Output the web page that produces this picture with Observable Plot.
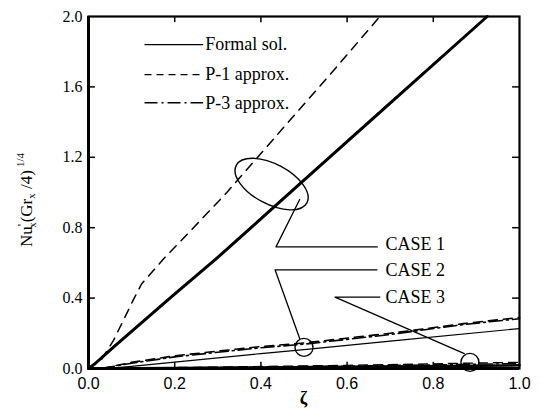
<!DOCTYPE html>
<html>
<head>
<meta charset="utf-8">
<script src="https://cdn.jsdelivr.net/npm/d3@7"></script>
<script src="https://cdn.jsdelivr.net/npm/@observablehq/plot@0.6"></script>
<style>
  html, body { margin: 0; padding: 0; background: #fff; }
  #chart svg { display: block; }
</style>
</head>
<body>
<div id="chart"></div>
<script>
// ---- data ----
const xTicks = [0, 0.2, 0.4, 0.6, 0.8, 1.0];
const yTicks = [0, 0.4, 0.8, 1.2, 1.6, 2.0];
const xTickLabels = ["0.0", "0.2", "0.4", "0.6", "0.8", "1.0"];
const yTickLabels = ["0.0", "0.4", "0.8", "1.2", "1.6", "2.0"];

// CASE 1
const case1FormalZeta = [0, 0.015, 0.058, 0.193, 0.298, 0.502, 0.676, 0.925];
const case1FormalNu   = [0, 0.027, 0.122, 0.408, 0.627, 1.074, 1.455, 2.0];
const case1P1Zeta = [0, 0.03, 0.058, 0.081, 0.104, 0.123, 0.177, 0.228, 0.321, 0.41, 0.564, 0.676];
const case1P1Nu   = [0, 0.05, 0.16, 0.274, 0.39, 0.48, 0.63, 0.76, 1.0, 1.25, 1.68, 2.0];
const case1P3Zeta = [0, 0.015, 0.058, 0.193, 0.298, 0.502, 0.676, 0.925];
const case1P3Nu   = [0, 0.03, 0.125, 0.41, 0.63, 1.078, 1.46, 2.0];

// CASE 2
const case2FormalZeta = [0.04, 0.1, 0.2, 0.4, 0.5, 0.7, 1.0];
const case2FormalNu   = [0, 0.012, 0.036, 0.085, 0.107, 0.155, 0.227];
const case2P1Zeta = [0.03, 0.1, 0.2, 0.4, 0.5, 0.7, 0.87, 1.0];
const case2P1Nu   = [0, 0.035, 0.072, 0.125, 0.145, 0.2, 0.255, 0.29];
const case2P3Zeta = [0.03, 0.1, 0.2, 0.4, 0.5, 0.7, 0.87, 1.0];
const case2P3Nu   = [0, 0.03, 0.066, 0.118, 0.138, 0.193, 0.25, 0.283];

// CASE 3
const case3FormalZeta = [0, 0.3, 0.6, 1.0];
const case3FormalNu   = [0, 0.004, 0.01, 0.018];
const case3P1Zeta = [0, 0.3, 0.6, 1.0];
const case3P1Nu   = [0, 0.008, 0.018, 0.035];
const case3P3Zeta = [0, 0.3, 0.6, 1.0];
const case3P3Nu   = [0, 0.006, 0.014, 0.028];

// legend
const legendLabels = ["Formal sol.", "P-1 approx.", "P-3 approx."];
const legendNu = [1.84, 1.67, 1.51];

// annotations (data coordinates)
const caseLabels = ["CASE 1", "CASE 2", "CASE 3"];
const caseLabelZeta = [0.68, 0.68, 0.68];
const caseLabelNu = [0.705, 0.56, 0.406];
const leader1Zeta = [0.49, 0.435, 0.67];
const leader1Nu   = [0.96, 0.691, 0.691];
const leader2Zeta = [0.49, 0.433, 0.669];
const leader2Nu   = [0.17, 0.56, 0.56];
const leader3Zeta = [0.872, 0.572, 0.676];
const leader3Nu   = [0.085, 0.406, 0.406];
const ellipse1 = {zeta: 0.426, nu: 1.045, rx: 40, ry: 20, angle: 28};
const circle2 = {zeta: 0.5, nu: 0.12};
const circle3 = {zeta: 0.885, nu: 0.035};

// ---- build tables ----
const zip = (xs, ys) => xs.map((x, i) => ({x, y: ys[i]}));
const serif = "Liberation Serif, Times New Roman, serif";
const sans = "Liberation Sans, Arial, sans-serif";

const dashDash = "7,5", dotDash = "13,4,2,4";
const legendDashes = [null, dashDash, dotDash];
const legendWidths = [1.4, 1.4, 1.4];

const legendMarks = legendLabels.map((t, i) =>
  Plot.link([{y: legendNu[i]}], {
    x1: 0.13, x2: 0.266, y1: "y", y2: "y", stroke: "#000", strokeWidth: legendWidths[i],
    strokeDasharray: legendDashes[i]
  })
);

const marks = [
  // CASE 3 (bottom)
  Plot.line(zip(case3P1Zeta, case3P1Nu), {x: "x", y: "y", stroke: "#000", strokeWidth: 1.4, strokeDasharray: "9,6"}),
  Plot.line(zip(case3P3Zeta, case3P3Nu), {x: "x", y: "y", stroke: "#000", strokeWidth: 1.4, strokeDasharray: dotDash}),
  Plot.line(zip(case3FormalZeta, case3FormalNu), {x: "x", y: "y", stroke: "#000", strokeWidth: 2.5}),
  // CASE 2
  Plot.line(zip(case2P1Zeta, case2P1Nu), {x: "x", y: "y", stroke: "#000", strokeWidth: 1.6, strokeDasharray: "9,6"}),
  Plot.line(zip(case2P3Zeta, case2P3Nu), {x: "x", y: "y", stroke: "#000", strokeWidth: 1.6, strokeDasharray: dotDash}),
  Plot.line(zip(case2FormalZeta, case2FormalNu), {x: "x", y: "y", stroke: "#000", strokeWidth: 1.2}),
  // CASE 1
  Plot.line(zip(case1P1Zeta, case1P1Nu), {x: "x", y: "y", stroke: "#000", strokeWidth: 1.5, strokeDasharray: "9,7"}),
  Plot.line(zip(case1P3Zeta, case1P3Nu), {x: "x", y: "y", stroke: "#000", strokeWidth: 1.5, strokeDasharray: dotDash}),
  Plot.line(zip(case1FormalZeta, case1FormalNu), {x: "x", y: "y", stroke: "#000", strokeWidth: 3}),

  // leader lines
  Plot.line(zip(leader1Zeta, leader1Nu), {x: "x", y: "y", stroke: "#000", strokeWidth: 1.3}),
  Plot.line(zip(leader2Zeta, leader2Nu), {x: "x", y: "y", stroke: "#000", strokeWidth: 1.3}),
  Plot.line(zip(leader3Zeta, leader3Nu), {x: "x", y: "y", stroke: "#000", strokeWidth: 1.3}),
  Plot.dot([circle2], {x: "zeta", y: "nu", r: 9, stroke: "#000", strokeWidth: 1.4, fill: "none"}),
  Plot.dot([circle3], {x: "zeta", y: "nu", r: 9, stroke: "#000", strokeWidth: 1.4, fill: "none"}),
  Plot.text(caseLabels.map((t, i) => ({t, x: caseLabelZeta[i], y: caseLabelNu[i]})), {
    x: "x", y: "y", text: "t", textAnchor: "start", dx: 4, fontSize: 18, fontFamily: serif, fill: "#000",
    letterSpacing: 1.2
  }),

  // legend
  ...legendMarks,
  Plot.text(legendLabels.map((t, i) => ({t, y: legendNu[i]})), {
    x: 0.266, y: "y", text: "t", textAnchor: "start", dx: 2, fontSize: 18, fontFamily: serif, fill: "#000",
    letterSpacing: 0.4
  }),

  // inward ticks
  Plot.ruleX(xTicks.slice(1, -1), {x: d => d, y1: 0, y2: 0.035, stroke: "#000", strokeWidth: 1.5}),
  Plot.ruleX(xTicks.slice(1, -1), {x: d => d, y1: 2, y2: 1.965, stroke: "#000", strokeWidth: 1.5}),
  Plot.ruleY(yTicks.slice(1, -1), {y: d => d, x1: 0, x2: 0.016, stroke: "#000", strokeWidth: 1.5}),
  Plot.ruleY(yTicks.slice(1, -1), {y: d => d, x1: 1, x2: 0.984, stroke: "#000", strokeWidth: 1.5}),

  // frame
  Plot.frame({stroke: "#000", strokeWidth: 2.2}),
  Plot.ruleX([0], {stroke: "#000", strokeWidth: 3}),
  Plot.ruleY([0], {stroke: "#000", strokeWidth: 3.2}),

  // axes (labels only)
  Plot.axisX(xTicks, {anchor: "bottom", tickSize: 0, tickPadding: 9, tickFormat: (d, i) => xTickLabels[i],
    fontSize: 16, fontFamily: sans, label: null}),
  Plot.axisY(yTicks, {anchor: "left", tickSize: 0, tickPadding: 6, tickFormat: (d, i) => yTickLabels[i],
    fontSize: 16, fontFamily: serif, label: null})
];

const chart = Plot.plot({
  width: 541,
  height: 412,
  marginLeft: 88,
  marginRight: 22,
  marginTop: 16,
  marginBottom: 44,
  x: {domain: [0, 1]},
  y: {domain: [0, 2]},
  style: {background: "#fff", color: "#000", overflow: "visible"},
  marks
});

// tilted ellipse for CASE 1 (positioned via Plot scales)
const sx = chart.scale("x"), sy = chart.scale("y");
const svg = d3.select(chart);
const ex = sx.apply(ellipse1.zeta), ey = sy.apply(ellipse1.nu);
svg.append("ellipse")
  .attr("cx", ex).attr("cy", ey).attr("rx", ellipse1.rx).attr("ry", ellipse1.ry)
  .attr("transform", `rotate(${ellipse1.angle} ${ex} ${ey})`)
  .attr("fill", "none").attr("stroke", "#000").attr("stroke-width", 1.4);

// axis titles
svg.append("text")
  .attr("x", (sx.apply(0) + sx.apply(1)) / 2).attr("y", 404)
  .attr("text-anchor", "middle").attr("font-family", serif).attr("font-size", 18)
  .attr("font-weight", "bold").text("ζ");

const yl = svg.append("text")
  .attr("transform", `translate(32, ${(sy.apply(0) + sy.apply(2)) / 2 + 8}) rotate(-90)`)
  .attr("text-anchor", "middle").attr("font-family", serif).attr("font-size", 17);
yl.append("tspan").text("Nu");
yl.append("tspan").attr("font-size", 13).attr("dy", -6).text("'");
yl.append("tspan").attr("font-size", 11).attr("dx", -4).attr("dy", 10).text("x");
yl.append("tspan").attr("dy", -4).text("(Gr");
yl.append("tspan").attr("font-size", 11).attr("dy", 3).text("x");
yl.append("tspan").attr("dy", -3).text(" /4)");
yl.append("tspan").attr("font-size", 11).attr("dy", -8).attr("dx", 3).text("1/4");

document.getElementById("chart").appendChild(chart);
</script>
</body>
</html>
